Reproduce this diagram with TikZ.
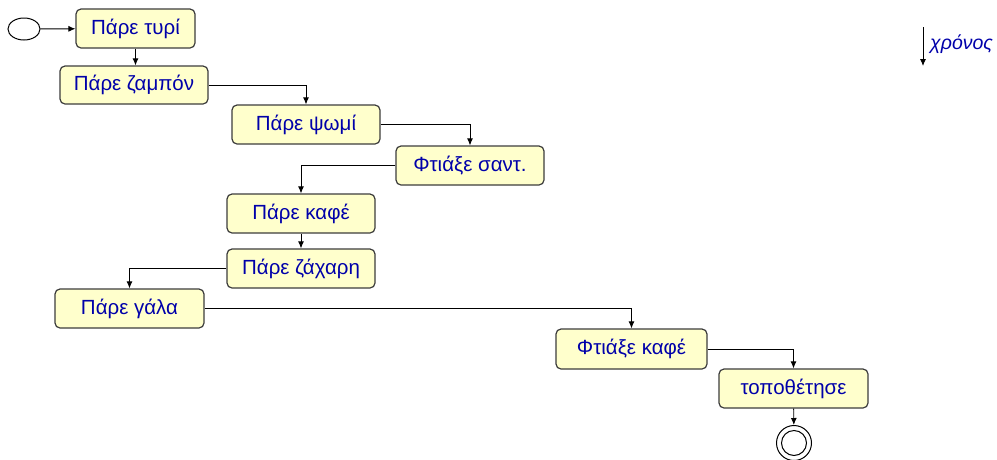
\documentclass[tikz,border=0pt]{standalone}
\usepackage{fontspec}
\setmainfont{Liberation Sans}
\usetikzlibrary{arrows.meta,shapes.geometric}
\definecolor{boxfill}{RGB}{255,255,204}
\definecolor{boxtext}{RGB}{0,0,170}
\definecolor{boxline}{RGB}{60,60,60}
\tikzset{
  task/.style={draw=boxline,line width=1.2pt,fill=boxfill,rounded corners=5pt,
    minimum width=148pt,minimum height=38pt,inner sep=0pt,
    text=boxtext,font=\fontsize{20.5}{23}\selectfont},
  flow/.style={-{Latex[length=7pt,width=6pt]},line width=0.9pt}
}
\begin{document}
\begin{tikzpicture}[x=1pt,y=-1pt]
\useasboundingbox (0,0) rectangle (997,459);
\node [draw,line width=1pt,ellipse,minimum width=32pt,minimum height=22pt,inner sep=0pt] (start) at (24,29) {};
\node [task,minimum width=119pt,minimum height=39pt] (tyri) at (135.5,28.5) {Πάρε τυρί};
\node [task] (zampon) at (134,85) {Πάρε ζαμπόν};
\node [task,minimum height=39pt] (psomi) at (306,124.5) {Πάρε ψωμί};
\node [task,minimum height=39pt] (sant) at (470,165.5) {Φτιάξε σαντ.};
\node [task,minimum height=39pt] (kafe) at (301,213.5) {Πάρε καφέ};
\node [task,minimum height=39pt] (zachari) at (301,268.5) {Πάρε ζάχαρη};
\node [task,minimum width=149pt,minimum height=39pt] (gala) at (129.5,308.5) {Πάρε γάλα};
\node [task,minimum width=151pt,minimum height=40pt] (ftiaxe) at (631.5,349) {Φτιάξε καφέ};
\node [task,minimum width=149pt,minimum height=39pt] (topo) at (793.5,388.5) {τοποθέτησε};
\node [draw,line width=1pt,circle,minimum size=35pt,inner sep=0pt] (end) at (794,443) {};
\node [draw,line width=1pt,circle,minimum size=25pt,inner sep=0pt] at (end) {};
\draw [flow] (start) -- (tyri);
\draw [flow] (tyri) -- (tyri |- zampon.north);
\draw [flow] (zampon) -| (psomi);
\draw [flow] (psomi) -| (sant);
\draw [flow] (sant) -| (kafe);
\draw [flow] (kafe) -- (zachari);
\draw [flow] (zachari) -| (gala);
\draw [flow] (gala) -| (ftiaxe);
\draw [flow] (ftiaxe) -| (topo);
\draw [flow] (topo) -- (end);
\coordinate (t0) at (923,27);
\coordinate (t1) at (923,66);
\draw [flow] (t0) -- (t1);
\node [anchor=west,inner sep=0pt,text=boxtext,font=\fontsize{19.5}{22}\selectfont\itshape] (chronos) at (930,44) {χρόνος};
\end{tikzpicture}
\end{document}
